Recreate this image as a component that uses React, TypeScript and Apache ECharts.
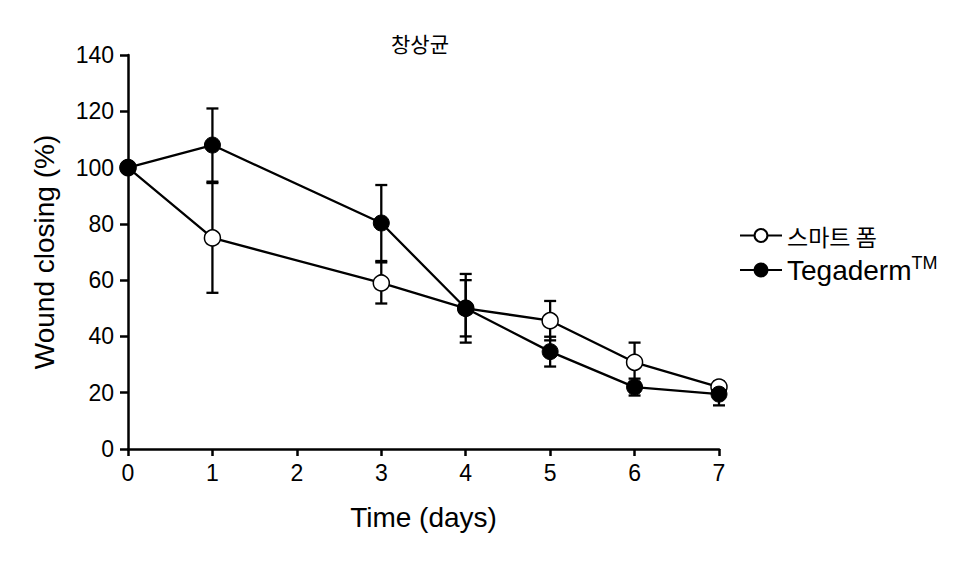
import React, { useEffect, useRef } from "react";
import * as echarts from "echarts";

const days = [0, 1, 3, 4, 5, 6, 7];
const smartMean = [100, 75, 59, 50, 45.6, 30.8, 22];
const smartSem = [0, 19.5, 7.3, 10, 7, 7, 2];
const tegaMean = [100, 108, 80.3, 50, 34.6, 22, 19.5];
const tegaSem = [0, 13, 13.5, 12.2, 5.3, 3, 4];
const xTicks = [0, 1, 2, 3, 4, 5, 6, 7];
const yTicks = [0, 20, 40, 60, 80, 100, 120, 140];
const seriesNames = ["스마트 폼", "Tegaderm"];
const titleText = "창상균";
const xName = "Time (days)";
const yName = "Wound closing (%)";

const FONT = "'Liberation Sans', Arial, 'Noto Sans CJK KR', sans-serif";
const KFONT = "'Noto Sans CJK KR', 'Liberation Sans', sans-serif";

function errData(mean: number[], sem: number[]) {
  const out: number[][] = [];
  days.forEach((d, i) => {
    if (sem[i] > 0) out.push([d, mean[i] - sem[i], mean[i] + sem[i]]);
  });
  return out;
}

function renderErr(params: any, api: any) {
  const x = api.value(0);
  const lo = api.coord([x, api.value(1)]);
  const hi = api.coord([x, api.value(2)]);
  const w = 6;
  const st = { stroke: "#000", lineWidth: 2.3 };
  return {
    type: "group",
    children: [
      { type: "line", shape: { x1: lo[0], y1: lo[1], x2: hi[0], y2: hi[1] }, style: st },
      { type: "line", shape: { x1: lo[0] - w, y1: lo[1], x2: lo[0] + w, y2: lo[1] }, style: st },
      { type: "line", shape: { x1: hi[0] - w, y1: hi[1], x2: hi[0] + w, y2: hi[1] }, style: st },
    ],
  };
}

export default function App() {
  const ref = useRef<HTMLDivElement>(null);
  useEffect(() => {
    if (!ref.current) return;
    const chart = echarts.init(ref.current, null, { renderer: "svg" });
    chart.setOption({
      animation: false,
      backgroundColor: "#fff",
      title: {
        text: titleText,
        left: 386,
        top: 27,
        textStyle: { fontFamily: KFONT, fontSize: 21, fontWeight: "normal", color: "#000" },
      },
      grid: { left: 128, right: 255, top: 55, bottom: 113, containLabel: false },
      legend: {
        orient: "vertical",
        left: 734,
        top: 219,
        itemWidth: 42,
        itemHeight: 16,
        itemGap: 7,
        data: seriesNames,
        formatter: (name: string) =>
          name === "Tegaderm" ? "{t|Tegaderm}{s|TM}" : "{k|" + name + "}",
        textStyle: {
          color: "#000",
          rich: {
            t: { fontFamily: FONT, fontSize: 28, color: "#000", lineHeight: 32 },
            s: { fontFamily: FONT, fontSize: 18, color: "#000", verticalAlign: "top", padding: [0, 0, 14, 0] },
            k: { fontFamily: KFONT, fontSize: 23, color: "#000", lineHeight: 30 },
          },
        },
      },
      xAxis: {
        type: "value",
        min: 0,
        max: 7,
        interval: 1,
        name: xName,
        nameLocation: "middle",
        nameGap: 54,
        nameTextStyle: { fontFamily: FONT, fontSize: 28, color: "#000" },
        axisLine: { show: true, lineStyle: { color: "#000", width: 2.5 } },
        axisTick: { show: true, inside: false, length: 7, lineStyle: { color: "#000", width: 2.5 } },
        axisLabel: {
          margin: 12,
          fontFamily: FONT,
          fontSize: 23,
          color: "#000",
          formatter: (v: number) => (xTicks.includes(v) ? String(v) : ""),
        },
        splitLine: { show: false },
      },
      yAxis: {
        type: "value",
        min: 0,
        max: 140,
        interval: 20,
        name: yName,
        nameLocation: "middle",
        nameGap: 70,
        nameTextStyle: { fontFamily: FONT, fontSize: 28, color: "#000" },
        axisLine: { show: true, lineStyle: { color: "#000", width: 2.5 } },
        axisTick: { show: true, inside: false, length: 8, lineStyle: { color: "#000", width: 2.5 } },
        axisLabel: {
          margin: 14,
          fontFamily: FONT,
          fontSize: 23,
          color: "#000",
          formatter: (v: number) => (yTicks.includes(v) ? String(v) : ""),
        },
        splitLine: { show: false },
      },
      series: [
        {
          type: "custom",
          name: "err1",
          renderItem: renderErr,
          data: errData(smartMean, smartSem),
          encode: { x: 0, y: [1, 2] },
          z: 1,
          silent: true,
        },
        {
          type: "custom",
          name: "err2",
          renderItem: renderErr,
          data: errData(tegaMean, tegaSem),
          encode: { x: 0, y: [1, 2] },
          z: 1,
          silent: true,
        },
        {
          type: "line",
          name: seriesNames[0],
          data: days.map((d, i) => [d, smartMean[i]]),
          symbol: "circle",
          symbolSize: 16,
          showAllSymbol: true,
          lineStyle: { color: "#000", width: 2.3 },
          itemStyle: { color: "#fff", borderColor: "#000", borderWidth: 1.5 },
          z: 3,
        },
        {
          type: "line",
          name: seriesNames[1],
          data: days.map((d, i) => [d, tegaMean[i]]),
          symbol: "circle",
          symbolSize: 16,
          showAllSymbol: true,
          lineStyle: { color: "#000", width: 2.3 },
          itemStyle: { color: "#000", borderColor: "#000", borderWidth: 1 },
          z: 4,
        },
      ],
    });
    return () => chart.dispose();
  }, []);
  return (
    <div
      ref={ref}
      style={{ position: "fixed", left: 0, top: 0, width: 974, height: 562, background: "#fff" }}
    />
  );
}
